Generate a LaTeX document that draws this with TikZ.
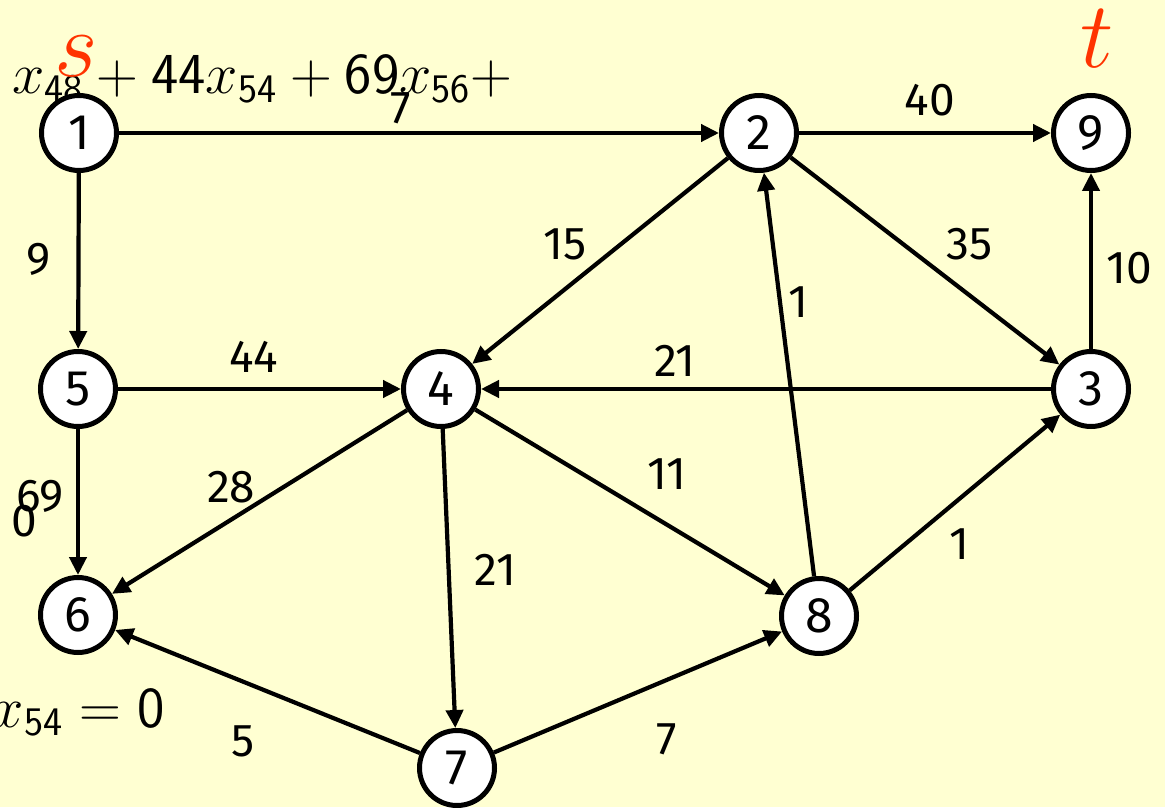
\RequirePackage{fix-cm}
\documentclass[tikz,border=0pt]{standalone}
\usepackage{fontspec}
\setmainfont{Fira Sans}
\usetikzlibrary{arrows.meta}
\definecolor{paper}{HTML}{FFFFD2}
\definecolor{stred}{HTML}{FF3300}

\begin{document}
\begin{tikzpicture}[
    x=0.5pt, y=-0.5pt,
    vertex/.style={
      circle, draw=black, fill=white, line width=2.5pt,
      minimum size=37.5pt, inner sep=0pt,
      font=\fontsize{25}{29}\selectfont
    },
    lbl/.style={font=\fontsize{23}{27}\selectfont, inner sep=0pt},
    mathtxt/.style={font=\fontsize{29}{33}\selectfont, inner sep=0pt},
    endpt/.style={text=stred, font=\fontsize{47}{52}\selectfont, inner sep=0pt},
    arc/.style={-{Triangle[length=9pt, width=8.5pt]}, line width=2.1pt}
]
  \fill[paper] (0,0) rectangle (1165,807);
  \useasboundingbox (0,0) rectangle (1165,807);

  % stray text from the slide
  \node[mathtxt, anchor=base west] (eqtop) at (12,94)
    {$x_{\mathsf{48}}+\mathsf{44}x_{\mathsf{54}}+\mathsf{69}x_{\mathsf{56}}+$};
  \node[mathtxt, anchor=base east] (eqbot) at (165,727) {$x_{\mathsf{54}}=\mathsf{0}$};

  % vertices
  \node[vertex] (n1) at (79,133) {1};
  \node[vertex] (n2) at (759,133) {2};
  \node[vertex] (n9) at (1091,133) {9};
  \node[vertex] (n5) at (78,389) {5};
  \node[vertex] (n4) at (441,389) {4};
  \node[vertex] (n3) at (1091,389) {3};
  \node[vertex] (n6) at (78,615) {6};
  \node[vertex] (n8) at (819,616) {8};
  \node[vertex] (n7) at (457,768) {7};

  \node[endpt] (src) at (76,56) {$s$};
  \node[endpt] (snk) at (1097,39) {$t$};

  % arcs with capacities
  \draw[arc] (n1) -- node[lbl, pos=.47, yshift=12.5pt] (c12) {7} (n2);
  \draw[arc] (n2) -- node[lbl, pos=.52, yshift=16.5pt] (c29) {40} (n9);
  \draw[arc] (n1) -- node[lbl, pos=.49, xshift=-20pt] (c15) {9} (n5);
  \draw[arc] (n2) -- node[lbl, pos=.42, xshift=-27.5pt] (c24) {15} (n4);
  \draw[arc] (n2) -- node[lbl, pos=.42, xshift=33pt] (c23) {35} (n3);
  \draw[arc] (n3) -- node[lbl, pos=.46, xshift=19pt] (c39) {10} (n9);
  \draw[arc] (n8) -- node[lbl, pos=.68, xshift=9pt] (c82) {1} (n2);
  \draw[arc] (n5) -- node[lbl, pos=.48, yshift=16pt] (c54) {44} (n4);
  \draw[arc] (n3) -- node[lbl, pos=.66, yshift=14pt] (c34) {21} (n4);
  \draw[arc] (n4) -- node[lbl, pos=.42, xshift=-26pt] (c46) {28} (n6);
  \draw[arc] (n4) -- node[lbl, pos=.62, yshift=25.5pt] (c48) {11} (n8);
  \draw[arc] (n5) -- node[lbl, pos=.46, xshift=-19pt] (c56) {69} (n6);
  \draw[arc] (n4) -- node[lbl, pos=.47, xshift=23.5pt] (c47) {21} (n7);
  \draw[arc] (n8) -- node[lbl, pos=.52, yshift=-22.5pt] (c83) {1} (n3);
  \draw[arc] (n7) -- node[lbl, pos=.58, yshift=-30pt] (c76) {5} (n6);
  \draw[arc] (n7) -- node[lbl, pos=.60, yshift=-29.5pt] (c78) {7} (n8);

  \node[lbl] (zero) at (24,521) {0};
\end{tikzpicture}
\end{document}
